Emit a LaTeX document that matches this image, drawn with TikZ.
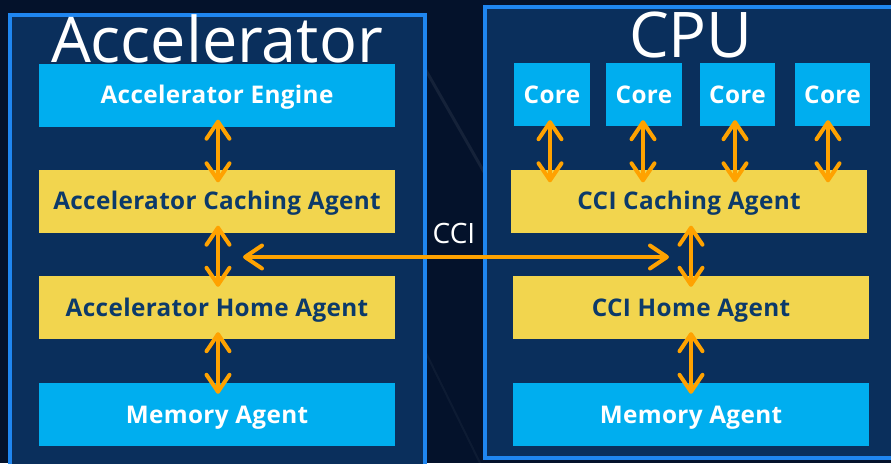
\documentclass[tikz,border=0pt]{standalone}
\usepackage{fontspec}
\setmainfont{Open Sans}
\usetikzlibrary{arrows.meta,calc}

\definecolor{bgdark}{HTML}{04122B}
\definecolor{panelfill}{HTML}{0A2F5C}
\definecolor{framecol}{HTML}{1F86F0}
\definecolor{cyanbox}{HTML}{00AEEF}
\definecolor{yellowbox}{HTML}{F2D54E}
\definecolor{navytext}{HTML}{0C3A6A}
\definecolor{linkorange}{HTML}{FFA200}

\tikzset{
  panel/.style={draw=framecol, line width=4pt, fill=panelfill},
  title/.style={text=white, font=\fontsize{63}{63}\selectfont, anchor=base, inner sep=0pt},
  unitbox/.style={minimum height=63pt, inner sep=0pt, text height=17.5pt, text depth=0pt,
    font=\bfseries\fontsize{24.3}{25}\selectfont\addfontfeatures{LetterSpace=1.5}},
  bluebox/.style={unitbox, fill=cyanbox, text=white},
  yellowbox/.style={unitbox, fill=yellowbox, text=navytext},
  widebox/.style={minimum width=356pt},
  corebox/.style={minimum width=76pt},
  barb/.tip={Straight Barb[length=17pt,width=23pt,round]},
  biarrow/.style={draw=linkorange, line width=4pt, line cap=round, barb-barb},
  linklabel/.style={text=white, font=\fontsize{28}{28}\selectfont, anchor=base, inner sep=0pt}
}

\begin{document}
\begin{tikzpicture}[x=1pt,y=-1pt]
  % canvas
  \fill[bgdark] (0,0) rectangle (891,463);
  \useasboundingbox (0,0) rectangle (891,463);
  % faint streaks in the dark gap
  \draw[white, opacity=0.07, line width=3pt] (420,60) -- (500,200);
  \draw[white, opacity=0.04, line width=2pt] (400,300) -- (480,463);

  % the two panels
  \draw[panel] (10,15) rectangle (425,475);
  \draw[panel] (485,7) rectangle (900,458);

  % titles
  \node[title] (tacc) at (217,62) {Accelerator};
  \node[title] (tcpu) at (691,57) {CPU};

  % accelerator side
  \node[bluebox, widebox] (aeng) at (217,95) {Accelerator Engine};
  \node[yellowbox, widebox] (acach) at (217,201) {Accelerator Caching Agent};
  \node[yellowbox, widebox] (ahome) at (217,307.5) {Accelerator Home Agent};
  \node[bluebox, widebox] (amem) at (217,414.5) {Memory Agent};

  % cpu side
  \node[bluebox, corebox] (core1) at (552,94.5) {Core};
  \node[bluebox, corebox] (core2) at (644,94.5) {Core};
  \node[bluebox, corebox, minimum width=75pt] (core3) at (737.5,94.5) {Core};
  \node[bluebox, corebox, minimum width=75pt] (core4) at (832.5,94.5) {Core};
  \node[yellowbox, widebox] (ccach) at (689,201) {CCI Caching Agent};
  \node[yellowbox, widebox] (chome) at (691,307.5) {CCI Home Agent};
  \node[bluebox, widebox] (cmem) at (691,414.5) {Memory Agent};

  % vertical links inside the accelerator
  \draw[biarrow, shorten <=-7pt, shorten >=-13pt] ([xshift=1pt]aeng.south) -- ([xshift=1pt]acach.north);
  \draw[biarrow, shorten <=-7pt, shorten >=-11pt] ([xshift=1pt]acach.south) -- ([xshift=1pt]ahome.north);
  \draw[biarrow, shorten <=-7pt, shorten >=-11pt] ([xshift=1pt]ahome.south) -- ([xshift=1pt]amem.north);

  % core links
  \foreach \c/\dx in {core1/-2, core2/-1, core3/-2.5, core4/-4.5} {
    \draw[biarrow, shorten <=-6pt, shorten >=-13pt]
      ([xshift=\dx pt]\c.south) -- ([xshift=\dx pt]\c.south |- ccach.north);
  }

  % vertical links inside the cpu
  \draw[biarrow, shorten <=-7pt, shorten >=-11pt] (chome.north |- ccach.south) -- (chome.north);
  \draw[biarrow, shorten <=-7pt, shorten >=-11pt] (chome.south) -- (cmem.north);

  % CCI link between the two sides
  \coordinate (cciL) at (243,257);
  \coordinate (cciR) at (669,257);
  \draw[biarrow] (cciL) -- (cciR);
  \node[linklabel] (cci) at (454,243) {CCI};
\end{tikzpicture}
\end{document}
